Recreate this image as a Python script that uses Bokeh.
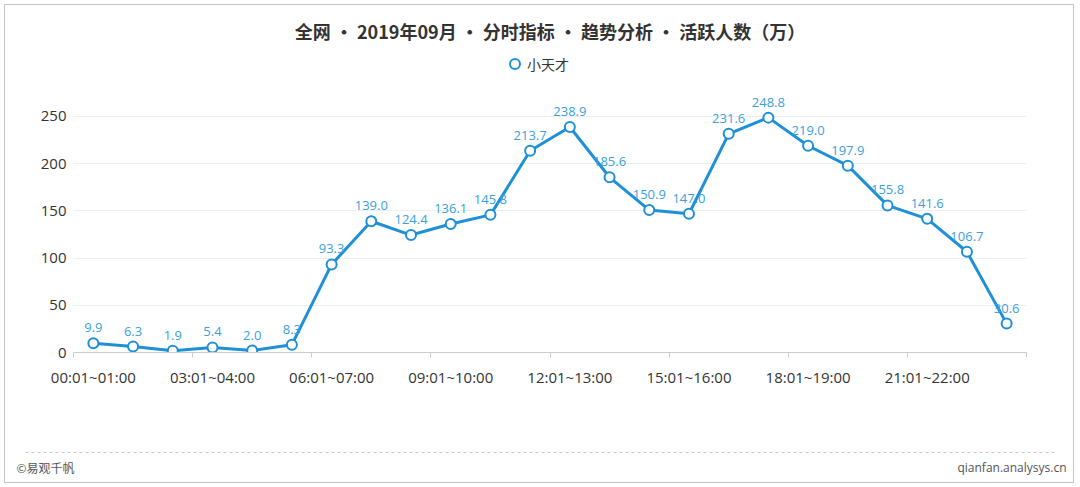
from bokeh.plotting import figure
from bokeh.layouts import column
from bokeh.models import (ColumnDataSource, FixedTicker, Legend, LegendItem, Range1d)
from bokeh.embed import file_html
from bokeh.resources import INLINE
from bokeh.core.properties import value

# ---- data ----
categories = ["00:01~01:00", "01:01~02:00", "02:01~03:00", "03:01~04:00",
              "04:01~05:00", "05:01~06:00", "06:01~07:00", "07:01~08:00",
              "08:01~09:00", "09:01~10:00", "10:01~11:00", "11:01~12:00",
              "12:01~13:00", "13:01~14:00", "14:01~15:00", "15:01~16:00",
              "16:01~17:00", "17:01~18:00", "18:01~19:00", "19:01~20:00",
              "20:01~21:00", "21:01~22:00", "22:01~23:00", "23:01~24:00"]
values = [9.9, 6.3, 1.9, 5.4, 2.0, 8.3, 93.3, 139.0, 124.4, 136.1, 145.8, 213.7,
          238.9, 185.6, 150.9, 147.0, 231.6, 248.8, 219.0, 197.9, 155.8, 141.6,
          106.7, 30.6]
y_ticks = [0, 50, 100, 150, 200, 250]
series_name = "小天才"
title_text = "全网 • 2019年09月 • 分时指标 • 趋势分析 • 活跃人数（万）"
footer_left = "©易观千帆"
footer_right = "qianfan.analysys.cn"

CJK = "Noto Sans CJK SC"
NUM = "Open Sans"
LINE = "#1e90d8"
LABEL = "#3a9fe0"

n = len(categories)
xs = [i + 0.5 for i in range(n)]
src = ColumnDataSource(dict(x=xs, y=values, lab=[f"{v:.1f}" for v in values]))

W = 1068
H_MAIN, H_FOOT = 430, 47
p = figure(width=W, height=H_MAIN, output_backend="svg", toolbar_location=None,
           min_border_left=68, min_border_right=47, min_border_top=43,
           min_border_bottom=83,
           x_range=Range1d(0, n), y_range=Range1d(0, 322.03))
p.outline_line_color = None
p.background_fill_color = "white"
p.border_fill_color = "white"

p.title.text = title_text
p.title.align = "center"
p.title.text_font = CJK
p.title.text_font_size = "18px"
p.title.text_font_style = "bold"
p.title.text_color = "#333333"

# grid
p.xgrid.visible = False
p.ygrid.ticker = FixedTicker(ticks=y_ticks)
p.ygrid.grid_line_color = "#eeeeee"

# y axis
p.yaxis.ticker = FixedTicker(ticks=y_ticks)
p.yaxis.axis_line_color = None
p.yaxis.major_tick_line_color = None
p.yaxis.major_tick_out = 0
p.yaxis.major_tick_in = 0
p.yaxis.minor_tick_line_color = None
p.yaxis.major_label_text_font = NUM
p.yaxis.major_label_text_font_size = "15px"
p.yaxis.major_label_text_color = "#333333"
p.yaxis.major_label_standoff = 7

# x axis
label_pos = [xs[i] for i in range(0, n, 3)]
p.xaxis.ticker = FixedTicker(ticks=label_pos, minor_ticks=list(range(0, n + 1, 3)))
p.xaxis.major_label_overrides = {xs[i]: categories[i] for i in range(0, n, 3)}
p.xaxis.axis_line_color = "#cccccc"
p.xaxis.major_tick_line_color = None
p.xaxis.major_tick_out = 0
p.xaxis.major_tick_in = 0
p.xaxis.minor_tick_line_color = "#cccccc"
p.xaxis.minor_tick_out = 5
p.xaxis.minor_tick_in = 0
p.xaxis.major_label_text_font = NUM
p.xaxis.major_label_text_font_size = "15px"
p.xaxis.major_label_text_color = "#333333"
p.xaxis.major_label_standoff = 9

# series
p.line("x", "y", source=src, line_color=LINE, line_width=3)
sc = p.scatter("x", "y", source=src, size=10, marker="circle", fill_color="white",
               line_color=LINE, line_width=2)
p.text("x", "y", text="lab", source=src, text_font=value(NUM),
       text_font_size="13px", text_color=LABEL, text_align="center",
       text_baseline="bottom", y_offset=-11)

# legend (inside the frame's empty top band)
leg = Legend(items=[LegendItem(label=series_name, renderers=[sc])],
             location=(429, 276), orientation="horizontal",
             padding=0, margin=0, border_line_color=None,
             background_fill_alpha=0, glyph_width=25, glyph_height=25,
             label_standoff=0, label_text_font=CJK, label_text_font_size="14px",
             label_text_color="#333333")
p.add_layout(leg, "center")

# footer
f = figure(width=W, height=H_FOOT, output_backend="svg", toolbar_location=None,
           min_border=0, x_range=Range1d(0, W), y_range=Range1d(H_FOOT, 0))
f.axis.visible = False
f.grid.visible = False
f.outline_line_color = None
f.border_fill_color = "white"
f.segment(x0=[20], y0=[17], x1=[1050], y1=[17], line_color="#c8c8c8",
          line_dash="3 3", line_width=1)
f.text(x=[11], y=[32], text=[footer_left], text_font=value(CJK), text_font_size="12px",
       text_color="#555555", text_align="left", text_baseline="middle")
f.text(x=[1061], y=[32], text=[footer_right], text_font=value(NUM),
       text_font_size="12px", text_color="#555555", text_align="right",
       text_baseline="middle")

layout = column(p, column(f), spacing=0, margin=(4, 6, 4, 4),
                styles={"border": "1px solid #c4c4c4"})

open("out.html", "w").write(file_html(layout, INLINE))
